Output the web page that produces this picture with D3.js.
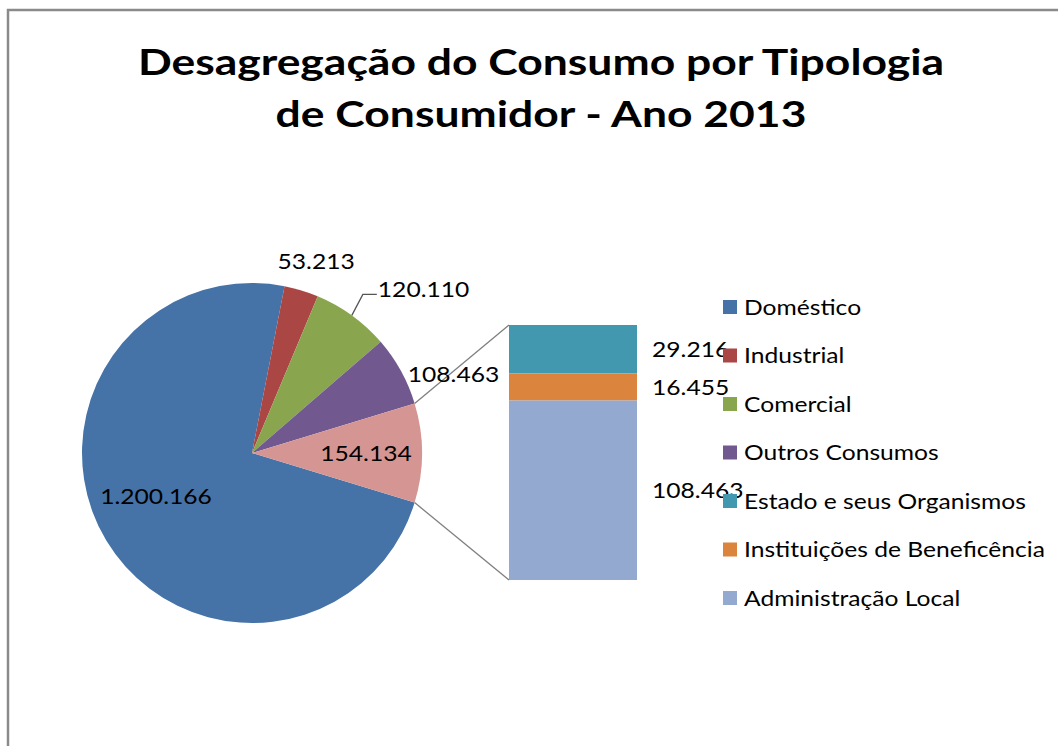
<!DOCTYPE html>
<html>
<head>
<meta charset="utf-8">
<script src="https://cdn.jsdelivr.net/npm/d3@7"></script>
<style>
  html, body { margin: 0; padding: 0; background: #fff; }
  svg { display: block; }
  text { font-family: Lato, "Open Sans", sans-serif; fill: #000; }
</style>
</head>
<body>
<svg id="chart" width="1058" height="746"></svg>
<script>
// ---- Data ----
const titleLines = ["Desagregação do Consumo por Tipologia", "de Consumidor - Ano 2013"];
const pieCategories = ["Doméstico", "Industrial", "Comercial", "Outros Consumos", "Outros"];
const pieValues = [1200166, 53213, 120110, 108463, 154134];
const pieLabels = ["1.200.166", "53.213", "120.110", "108.463", "154.134"];
const barCategories = ["Estado e seus Organismos", "Instituições de Beneficência", "Administração Local"];
const barValues = [29216, 16455, 108463];
const barLabels = ["29.216", "16.455", "108.463"];
const legendItems = ["Doméstico", "Industrial", "Comercial", "Outros Consumos",
  "Estado e seus Organismos", "Instituições de Beneficência", "Administração Local"];

// ---- Styles ----
const pieColors = ["#4572A7", "#AA4643", "#89A54E", "#71588F", "#D59592"];
const barColors = ["#4198AF", "#DB843D", "#93A9CF"];
const legendColors = ["#4572A7", "#AA4643", "#89A54E", "#71588F", "#4198AF", "#DB843D", "#93A9CF"];
const TITLE_SX = 1.235, BODY_SX = 1.12;

const svg = d3.select("#chart");

// place text with a horizontal stretch around its anchor
function putText(sel, x, y, sx) {
  return sel.attr("transform", `translate(${x},${y}) scale(${sx},1)`);
}

// frame
svg.append("rect").attr("x", 8).attr("y", 10).attr("width", 1200).attr("height", 900)
  .attr("fill", "#fff").attr("stroke", "#8a8a8a").attr("stroke-width", 2.5);

// title
svg.append("g").selectAll("text").data(titleLines).join("text")
  .attr("transform", (d, i) => `translate(541,${75 + i * 52}) scale(${TITLE_SX},1)`)
  .attr("text-anchor", "middle")
  .attr("font-weight", "bold").attr("font-size", 36)
  .text(d => d);

// ---- Pie ----
const cx = 252, cy = 453, R = 170;
const total = d3.sum(pieValues);
const lastAngle = pieValues[pieValues.length - 1] / total * 2 * Math.PI;
// secondary slice centered at 3 o'clock
const start = Math.PI / 2 + lastAngle / 2;
const pie = d3.pie().sort(null).value(d => d).startAngle(start).endAngle(start + 2 * Math.PI);
const arcs = pie(pieValues);
const arc = d3.arc().innerRadius(0).outerRadius(R);

const pg = svg.append("g").attr("transform", `translate(${cx},${cy})`);
pg.selectAll("path").data(arcs).join("path")
  .attr("d", arc).attr("fill", (d, i) => pieColors[i]);

const polar = (a, r) => [Math.sin(a) * r, -Math.cos(a) * r];

// ---- Bar (stack) ----
const barX = d3.scaleBand().domain(["bar"]).range([509, 637]).padding(0);
const barY = d3.scaleLinear().domain([0, d3.sum(barValues)]).range([580, 325]);
const stackOrder = barValues.map((v, i) => i).reverse();
let acc = 0;
const segs = [];
stackOrder.forEach(i => { segs[i] = { y0: acc, y1: acc + barValues[i] }; acc += barValues[i]; });

svg.append("g").selectAll("rect").data(barValues).join("rect")
  .attr("x", barX("bar")).attr("width", barX.bandwidth())
  .attr("y", (d, i) => barY(segs[i].y1))
  .attr("height", (d, i) => barY(segs[i].y0) - barY(segs[i].y1))
  .attr("fill", (d, i) => barColors[i]);

// connector lines
const other = arcs[arcs.length - 1];
const pTop = polar(other.startAngle, R), pBot = polar(other.endAngle, R);
const conn = svg.append("g").attr("stroke", "#7f7f7f").attr("stroke-width", 1.3).attr("fill", "none");
conn.append("line").attr("x1", cx + pTop[0]).attr("y1", cy + pTop[1])
  .attr("x2", barX("bar")).attr("y2", barY(d3.sum(barValues)));
conn.append("line").attr("x1", cx + pBot[0]).attr("y1", cy + pBot[1])
  .attr("x2", barX("bar")).attr("y2", barY(0));

// bar labels
svg.append("g").selectAll("text").data(barLabels).join("text")
  .attr("transform", (d, i) => `translate(${barX("bar") + barX.bandwidth() + 15},${(barY(segs[i].y0) + barY(segs[i].y1)) / 2}) scale(${BODY_SX},1)`)
  .attr("dy", "0.35em").attr("font-size", 22).text(d => d);

// pie labels (radius / offset per label: layout)
const labelLayout = [
  { r: 105, dx: -6, dy: -11 },   // Doméstico
  { r: 200, dx: 6, dy: 0 },      // Industrial
  { r: null },                   // Comercial (leader)
  { r: 205, dx: 22, dy: 20 },    // Outros Consumos
  { r: 114, dx: 0, dy: 0 }       // Outros
];
const lg = svg.append("g");
arcs.forEach((a, i) => {
  const mid = (a.startAngle + a.endAngle) / 2;
  const L = labelLayout[i];
  if (L.r === null) {
    const e = polar(mid, R);
    const p1 = [cx + e[0], cy + e[1]];
    const p2 = [p1[0] + 11, p1[1] - 21];
    const p3 = [p2[0] + 14, p2[1]];
    lg.append("polyline").attr("points", [p1, p2, p3].map(p => p.join(",")).join(" "))
      .attr("fill", "none").attr("stroke", "#555").attr("stroke-width", 1.3);
    putText(lg.append("text"), p3[0] + 1, p3[1] - 5, BODY_SX).attr("dy", "0.35em")
      .attr("font-size", 22).text(pieLabels[i]);
  } else {
    const p = polar(mid, L.r);
    putText(lg.append("text"), cx + p[0] + L.dx, cy + p[1] + L.dy, BODY_SX)
      .attr("dy", "0.35em").attr("text-anchor", "middle")
      .attr("font-size", 22).text(pieLabels[i]);
  }
});

// legend
const leg = svg.append("g").attr("transform", "translate(723,307)");
const rows = leg.selectAll("g").data(legendItems).join("g")
  .attr("transform", (d, i) => `translate(0,${i * 48.5})`);
rows.append("rect").attr("x", 0).attr("y", -7).attr("width", 14).attr("height", 14)
  .attr("fill", (d, i) => legendColors[i]);
rows.append("text").attr("transform", `translate(21,0) scale(${BODY_SX},1)`).attr("dy", "0.35em")
  .attr("font-size", 22).text(d => d);
</script>
</body>
</html>
